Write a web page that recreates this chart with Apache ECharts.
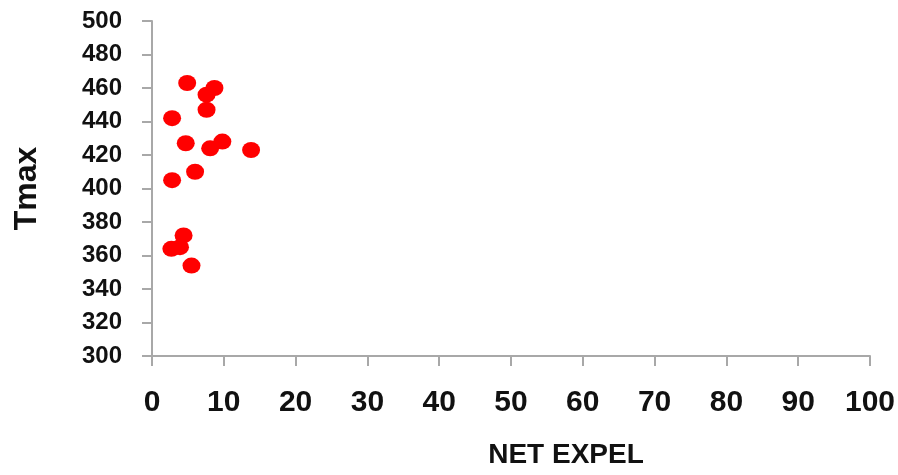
<!DOCTYPE html>
<html>
<head>
<meta charset="utf-8">
<script src="https://cdn.jsdelivr.net/npm/echarts@6/dist/echarts.min.js"></script>
<style>html,body{margin:0;padding:0;background:#fff;}#c{width:898px;height:475px;}</style>
</head>
<body>
<div id="c"></div>
<script>
const netExpel = [4.9, 8.7, 7.6, 7.6, 2.8, 4.7, 9.8, 8.1, 13.8, 6.0, 2.8, 4.4, 3.9, 2.7, 5.5];
const tmax = [463, 460, 456, 447, 442, 427, 428, 424, 423, 410, 405, 372, 365, 364, 354];
const xTicks = [0, 10, 20, 30, 40, 50, 60, 70, 80, 90, 100];
const yTicks = [300, 320, 340, 360, 380, 400, 420, 440, 460, 480, 500];

const points = netExpel.map((x, i) => [x, tmax[i]]);
const chart = echarts.init(document.getElementById('c'), null, {renderer: 'canvas'});
const font = '"Liberation Sans", Arial, sans-serif';
chart.setOption({
  animation: false,
  grid: {left: 152, right: 28, top: 21, bottom: 119, containLabel: false},
  xAxis: {
    type: 'value',
    min: xTicks[0], max: xTicks[xTicks.length - 1], interval: 10,
    name: 'NET EXPEL', nameLocation: 'middle', nameGap: 85,
    nameTextStyle: {fontFamily: font, fontWeight: 'bold', fontSize: 28, color: '#111', padding: [0, 0, 0, 110], verticalAlign: 'top'},
    axisLine: {show: true, lineStyle: {color: '#a8a8a8', width: 2}},
    axisTick: {show: true, length: 10, lineStyle: {color: '#a8a8a8', width: 2}},
    axisLabel: {fontFamily: font, fontWeight: 'bold', fontSize: 30, color: '#111', margin: 32},
    splitLine: {show: false}
  },
  yAxis: {
    type: 'value',
    min: yTicks[0], max: yTicks[yTicks.length - 1], interval: 20,
    name: 'Tmax', nameLocation: 'middle', nameGap: 109,
    nameTextStyle: {fontFamily: font, fontWeight: 'bold', fontSize: 32, color: '#111'},
    axisLine: {show: true, lineStyle: {color: '#a8a8a8', width: 2}},
    axisTick: {show: true, length: 10, lineStyle: {color: '#a8a8a8', width: 2}},
    axisLabel: {fontFamily: font, fontWeight: 'bold', fontSize: 24, color: '#111', margin: 30},
    splitLine: {show: false}
  },
  series: [{
    type: 'scatter',
    data: points,
    symbol: 'circle',
    symbolSize: [18, 16],
    itemStyle: {color: '#ff0000', opacity: 1}
  }]
});
</script>
</body>
</html>
